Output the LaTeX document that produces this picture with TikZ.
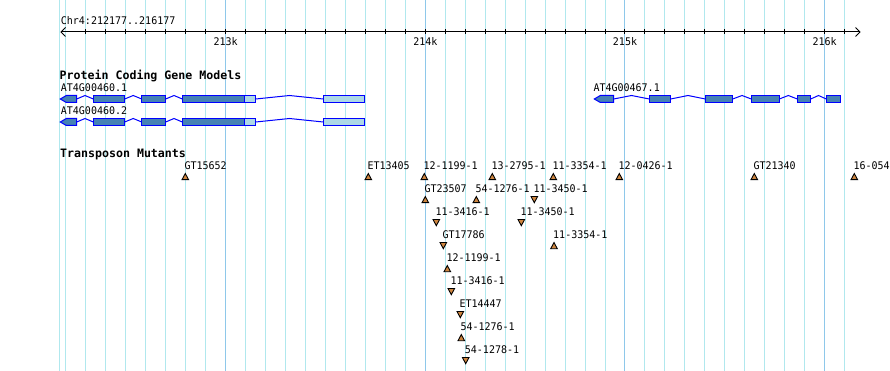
\documentclass[tikz,border=0pt]{standalone}
\usepackage{fontspec}
\setmonofont{DejaVu Sans Mono}
\newfontfamily\gdfont{DejaVu Sans Mono}[FakeStretch=0.953]
\definecolor{gridminor}{HTML}{B0E8EE}
\definecolor{gridmajor}{HTML}{8EC8EA}
\definecolor{exonfill}{HTML}{4682B4}
\definecolor{exonline}{HTML}{0000FF}
\definecolor{utrfill}{HTML}{ADD8E6}
\definecolor{insfill}{HTML}{CD853F}
\newcommand\gexon[3]{\draw[exon] (#1,#3-3.5) rectangle (#2,#3+3.5);}
\newcommand\gutr[3]{\draw[utr] (#1,#3-3.5) rectangle (#2,#3+3.5);}
\newcommand\gintron[3]{\draw[intron] (#1,#3) -- ({(#1+#2)/2},#3-3.5) -- (#2,#3);}
\newcommand\garrow[3]{\draw[exon] (#1,#3) -- (#1+6,#3-3.5) -- (#2,#3-3.5) -- (#2,#3+3.5) -- (#1+6,#3+3.5) -- cycle;}
\newcommand\mup[4]{%
  \pgfmathsetmacro\yt{173.5+23*#3}%
  \node[txt] (#1) at (#2-1,\yt-4) {#4};%
  \draw[ins] (#2-3.3,\yt+6.2) -- (#2,\yt) -- (#2+3.3,\yt+6.2) -- cycle;}
\newcommand\mdn[4]{%
  \pgfmathsetmacro\yt{173.5+23*#3}%
  \node[txt] (#1) at (#2-1,\yt-4) {#4};%
  \draw[ins] (#2-3.3,\yt) -- (#2+3.3,\yt) -- (#2,\yt+6.2) -- cycle;}
\begin{document}
\begin{tikzpicture}[x=1pt,y=-1pt,
  minor/.style={draw=gridminor,line width=1pt},
  major/.style={draw=gridmajor,line width=1pt},
  txt/.style={font=\gdfont\fontsize{10.5}{10.5}\selectfont,inner sep=0pt,anchor=base west},
  ttl/.style={font=\ttfamily\bfseries\fontsize{11.6}{12}\selectfont,inner sep=0pt,anchor=base west},
  exon/.style={fill=exonfill,draw=exonline,line width=1pt},
  utr/.style={fill=utrfill,draw=exonline,line width=1pt},
  intron/.style={draw=exonline,line width=1pt},
  ins/.style={fill=insfill,draw=black,line width=0.9pt,line join=miter}]
\useasboundingbox (0,0) rectangle (890,371);
\fill[white] (0,0) rectangle (890,371);
% grid
\draw[minor] (59.5,0) -- (59.5,371);
\foreach \k in {0,...,39}{
  \pgfmathsetmacro\gx{65.8+19.97*\k}
  \draw[minor] (\gx,0) -- (\gx,371);
}
\foreach \k in {8,18,28,38}{
  \pgfmathsetmacro\gx{65.8+19.97*\k}
  \draw[major] (\gx,0) -- (\gx,371);
}
% axis
\node[txt] (range) at (60.7,25) {Chr4:212177..216177};
\draw[line width=1pt] (61,32) -- (860,32);
\draw[line width=1pt] (65.5,27.5) -- (61,32) -- (65.5,36.5);
\draw[line width=1pt] (855.5,27.5) -- (860,32) -- (855.5,36.5);
\foreach \k in {1,...,39}{
  \pgfmathsetmacro\gx{65.8+19.97*\k}
  \draw[line width=1pt] (\gx,29.5) -- (\gx,34.5);
}
\node[txt,anchor=base] (k213) at (225.6,45.5) {213k};
\node[txt,anchor=base] (k214) at (425.3,45.5) {214k};
\node[txt,anchor=base] (k215) at (625.0,45.5) {215k};
\node[txt,anchor=base] (k216) at (824.7,45.5) {216k};
% gene models
\node[ttl] (pcgm) at (59.5,80) {Protein Coding Gene Models};
\node[txt] (g1) at (60.7,92) {AT4G00460.1};
\node[txt] (g2) at (60.7,115) {AT4G00460.2};
\node[txt] (g3) at (593.3,92) {AT4G00467.1};
\foreach \yc in {99,122}{
  \gintron{76.7}{93.3}{\yc}
  \gintron{124.7}{141.7}{\yc}
  \gintron{165.7}{182.3}{\yc}
  \gintron{255.7}{323.3}{\yc}
  \garrow{60.3}{76.7}{\yc}
  \gexon{93.3}{124.7}{\yc}
  \gexon{141.7}{165.7}{\yc}
  \gexon{182.3}{244.3}{\yc}
  \gutr{244.3}{255.7}{\yc}
  \gutr{323.3}{364.7}{\yc}
}
\gintron{613.7}{649.3}{99}
\gintron{670.7}{705.3}{99}
\gintron{732.7}{751.3}{99}
\gintron{779.3}{797.3}{99}
\gintron{810.7}{826.3}{99}
\garrow{594.3}{613.7}{99}
\gexon{649.3}{670.7}{99}
\gexon{705.3}{732.7}{99}
\gexon{751.3}{779.3}{99}
\gexon{797.3}{810.7}{99}
\gexon{826.3}{840.7}{99}
% transposon mutants
\node[ttl] (tm) at (60,158) {Transposon Mutants};
\mup{m1}{185.3}{0}{GT15652}
\mup{m2}{368.3}{0}{ET13405}
\mup{m3}{424.3}{0}{12-1199-1}
\mup{m4}{492.3}{0}{13-2795-1}
\mup{m5}{553.3}{0}{11-3354-1}
\mup{m6}{619.3}{0}{12-0426-1}
\mup{m7}{754.3}{0}{GT21340}
\mup{m8}{854.3}{0}{16-054}
\mup{m9}{425.3}{1}{GT23507}
\mup{m10}{476.3}{1}{54-1276-1}
\mdn{m11}{534.3}{1}{11-3450-1}
\mdn{m12}{436.3}{2}{11-3416-1}
\mdn{m13}{521.3}{2}{11-3450-1}
\mdn{m14}{443.3}{3}{GT17786}
\mup{m15}{554.0}{3}{11-3354-1}
\mup{m16}{447.3}{4}{12-1199-1}
\mdn{m17}{451.3}{5}{11-3416-1}
\mdn{m18}{460.3}{6}{ET14447}
\mup{m19}{461.3}{7}{54-1276-1}
\mdn{m20}{465.7}{8}{54-1278-1}
\end{tikzpicture}
\end{document}
